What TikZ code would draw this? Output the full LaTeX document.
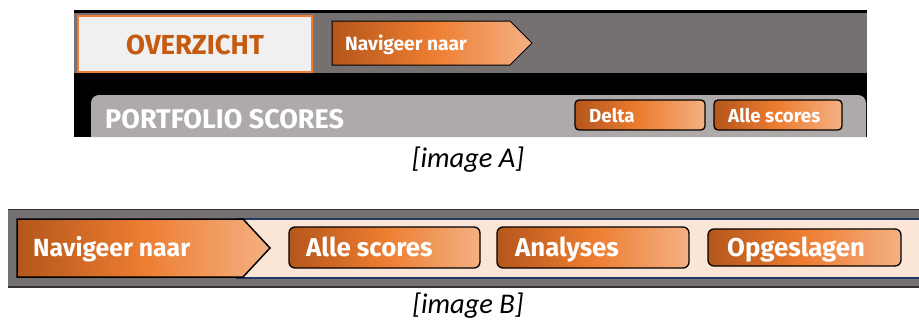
\documentclass[tikz,border=0pt]{standalone}
\usepackage{fontspec}
\setmainfont{Fira Sans}
\newfontfamily\capfont{Carlito}
\definecolor{bandgray}{HTML}{767171}
\definecolor{bargray}{HTML}{AEAAA9}
\definecolor{orangedark}{HTML}{B4561B}
\definecolor{orangemid}{HTML}{ED7D31}
\definecolor{orangelight}{HTML}{F4B183}
\definecolor{titleorange}{HTML}{C55A11}
\definecolor{panelwhite}{HTML}{F0F0F0}
\definecolor{peach}{HTML}{FBE5D6}
\definecolor{navyline}{HTML}{203864}
\tikzset{
  grad/.style={left color=orangedark, right color=orangelight, middle color=orangemid},
  btn/.style={grad, draw=black, line width=1.3pt, rounded corners=4pt, inner sep=0pt},
  btntext/.style={text=white, font=\bfseries, anchor=base west, inner sep=0pt},
  smalltext/.style={btntext, font=\bfseries\fontsize{19.2}{22}\selectfont},
  bigtext/.style={btntext, font=\bfseries\fontsize{24.8}{28}\selectfont},
  buttontext/.style={btntext, font=\bfseries\fontsize{25.8}{28}\selectfont},
  caption/.style={font=\capfont\itshape\fontsize{28.5}{32}\selectfont, inner sep=0pt, anchor=base}
}
\begin{document}
\begin{tikzpicture}[x=1pt,y=-1pt]
\useasboundingbox (0,0) rectangle (919,325);

% ---------- top screen ----------
\fill[black] (74,10) rectangle (867,137);
\fill[bandgray] (74,13) rectangle (867,73);
\fill[bargray] (91,137) [rounded corners=8pt] -- (91,95) -- (866,95) [sharp corners] -- (866,137) -- cycle;

\node[draw=orangemid, line width=1.8pt, fill=panelwhite, minimum width=234pt, minimum height=56pt, inner sep=0pt] (overzicht) at (195,44) {};
\node[text=titleorange, font=\bfseries\fontsize{27.5}{30}\selectfont, anchor=base, inner sep=0pt] (overzichtt) at (195,54) {OVERZICHT};

\draw[grad, line width=1pt] (332,21) -- (510,21) -- (532,43) -- (510,65) -- (332,65) -- cycle;
\node[smalltext] (navA) at (345,50.5) {Navigeer naar};

\node[text=white, font=\bfseries\fontsize{27}{30}\selectfont, anchor=base west, inner sep=0pt] (portfolio) at (105,128) {PORTFOLIO SCORES};

\node[btn, minimum width=130pt, minimum height=30pt] (delta) at (640,115) {};
\node[smalltext, font=\bfseries\fontsize{18.8}{22}\selectfont] (deltat) at (589,122) {Delta};
\node[btn, minimum width=128pt, minimum height=30pt] (alleA) at (778,115) {};
\node[smalltext, font=\bfseries\fontsize{18.8}{22}\selectfont] (alleAt) at (728,122) {Alle scores};

\node[caption] (capA) at (468,167) {[image A]};

% ---------- bottom bar ----------
\fill[black!80] (8,208.5) rectangle (919,287.5);
\fill[bandgray] (8,210) rectangle (919,286);
\fill[peach] (17,219) rectangle (919,278);
\draw[navyline, line width=1.6pt] (236,219) -- (919,219);
\draw[navyline, line width=1.6pt] (236,278) -- (919,278);

\draw[grad, line width=1.5pt] (17,219) -- (243,219) -- (270,248) -- (243,277) -- (17,277) -- cycle;
\node[bigtext] (navB) at (33,256.5) {Navigeer naar};

\node[btn, minimum width=191pt, minimum height=41pt, rounded corners=6pt] (alleB) at (384.5,247.5) {};
\node[buttontext] (alleBt) at (306,256.5) {Alle scores};
\node[btn, minimum width=192pt, minimum height=41pt, rounded corners=6pt] (analyses) at (593,247.5) {};
\node[buttontext] (analysest) at (515,256) {Analyses};
\node[btn, minimum width=193pt, minimum height=37pt, rounded corners=6pt] (opgeslagen) at (804.5,247.5) {};
\node[buttontext] (opgeslagent) at (727,256) {Opgeslagen};

\node[caption] (capB) at (468,313) {[image B]};
\end{tikzpicture}
\end{document}
